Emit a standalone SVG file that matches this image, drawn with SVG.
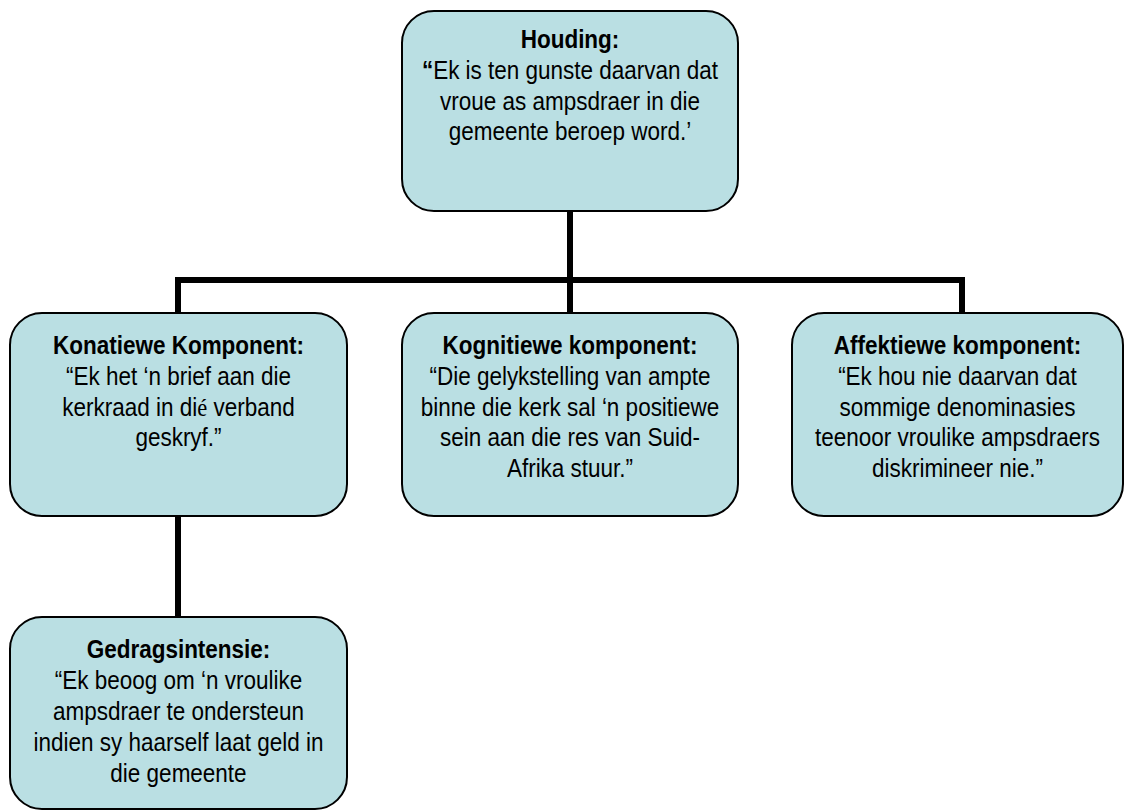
<svg xmlns="http://www.w3.org/2000/svg" width="1125" height="811" viewBox="0 0 1125 811">
<style>
.box{fill:#badfe3;stroke:#000;stroke-width:2}
.conn{fill:none;stroke:#000;stroke-width:6;stroke-linecap:butt;stroke-linejoin:miter}
text{font-family:"Liberation Sans",Arial,sans-serif;font-size:25px;fill:#000;text-anchor:middle}
.b{font-weight:bold}
.s{font-family:"Liberation Serif","Times New Roman",serif}
</style>
<rect width="1125" height="811" fill="#fff"/>
<g id="connectors">
<path class="conn" d="M570 212V280M178 313V280H962V313M570 280V313M178 516V617"/>
</g>
<g id="houding">
<rect class="box" x="402" y="11" width="336" height="200" rx="32"/>
<g transform="translate(570 0) scale(0.9 1)">
<text x="0" y="48" class="b">Houding:</text>
<text x="0" y="79"><tspan class="b">“</tspan>Ek is ten gunste daarvan dat</text>
<text x="0" y="110">vroue as ampsdraer in die</text>
<text x="0" y="140">gemeente beroep word.’</text>
</g>
</g>
<g id="konatiewe">
<rect class="box" x="10" y="313" width="337" height="203" rx="32"/>
<g transform="translate(178.5 0) scale(0.9 1)">
<text x="0" y="354" class="b">Konatiewe Komponent:</text>
<text x="0" y="385">“Ek het ‘n brief aan die</text>
<text x="0" y="416">kerkraad in di<tspan class="s">é</tspan> verband</text>
<text x="0" y="446">geskryf.”</text>
</g>
</g>
<g id="kognitiewe">
<rect class="box" x="402" y="313" width="336" height="203" rx="32"/>
<g transform="translate(570 0) scale(0.9 1)">
<text x="0" y="354" class="b">Kognitiewe komponent:</text>
<text x="0" y="385">“Die gelykstelling van ampte</text>
<text x="0" y="416">binne die kerk sal ‘n positiewe</text>
<text x="0" y="446">sein aan die res van Suid-</text>
<text x="0" y="477">Afrika stuur.”</text>
</g>
</g>
<g id="affektiewe">
<rect class="box" x="792" y="313" width="331" height="203" rx="32"/>
<g transform="translate(957.5 0) scale(0.9 1)">
<text x="0" y="354" class="b">Affektiewe komponent:</text>
<text x="0" y="385">“Ek hou nie daarvan dat</text>
<text x="0" y="416">sommige denominasies</text>
<text x="0" y="446">teenoor vroulike ampsdraers</text>
<text x="0" y="477">diskrimineer nie.”</text>
</g>
</g>
<g id="gedragsintensie">
<rect class="box" x="10" y="617" width="337" height="192" rx="32"/>
<g transform="translate(178.5 0) scale(0.9 1)">
<text x="0" y="658" class="b">Gedragsintensie:</text>
<text x="0" y="689">“Ek beoog om ‘n vroulike</text>
<text x="0" y="720">ampsdraer te ondersteun</text>
<text x="0" y="751">indien sy haarself laat geld in</text>
<text x="0" y="782">die gemeente</text>
</g>
</g>
</svg>
